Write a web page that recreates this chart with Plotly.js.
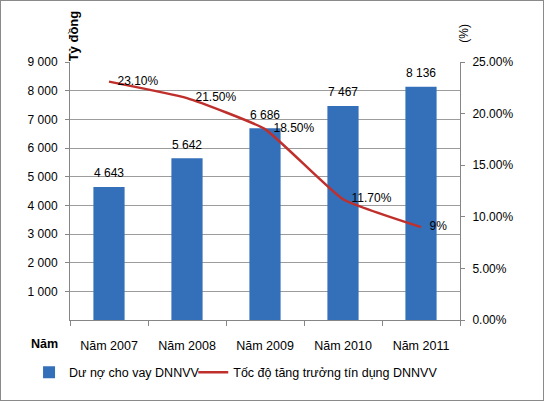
<!DOCTYPE html>
<html>
<head>
<meta charset="utf-8">
<script src="https://cdn.plot.ly/plotly-3.0.1.min.js"></script>
<style>
  body { margin: 0; background: #fff; }
  #chart { width: 544px; height: 401px; box-sizing: border-box; border: 1px solid #8a8a8a; }
</style>
</head>
<body>
<div id="chart"></div>
<script>
var years = ['Năm 2007', 'Năm 2008', 'Năm 2009', 'Năm 2010', 'Năm 2011'];
var loans = [4643, 5642, 6686, 7467, 8136];
var growth = [0.231, 0.215, 0.185, 0.117, 0.09];
var growthLabels = ['23.10%', '21.50%', '18.50%', '11.70%', '9%'];
var leftTicks = [1000, 2000, 3000, 4000, 5000, 6000, 7000, 8000, 9000];
var rightTicks = [0, 0.05, 0.10, 0.15, 0.20, 0.25];

var font = 'Liberation Sans, Arial, sans-serif';
var axisGrey = '#868686';
var clear = 'rgba(0,0,0,0)';

var data = [{
    type: 'bar',
    name: 'Dư nợ cho vay DNNVV',
    x: years,
    y: loans,
    marker: {color: '#346FBA'},
    legend: 'legend',
    hoverinfo: 'skip'
}, {
    // value labels above the bars (invisible markers give the offset)
    type: 'scatter',
    mode: 'markers+text',
    x: years,
    y: loans,
    marker: {size: 9, color: clear},
    texttemplate: '%{y:,d}',
    textposition: 'top center',
    textfont: {size: 12, color: '#000'},
    cliponaxis: false,
    showlegend: false,
    hoverinfo: 'skip'
}, {
    type: 'scatter',
    mode: 'lines+markers+text',
    name: 'Tốc độ tăng trưởng tín dụng DNNVV',
    x: years,
    y: growth,
    yaxis: 'y2',
    line: {color: '#BF2F2C', width: 2.5, shape: 'spline', smoothing: 0.4},
    marker: {size: 12, color: clear, line: {width: 0}},
    text: growthLabels,
    textposition: 'middle right',
    textfont: {size: 12, color: '#000'},
    cliponaxis: false,
    legend: 'legend2',
    hoverinfo: 'skip'
}];

var legendStyle = function (x) {
    return {
        orientation: 'h',
        x: x, xanchor: 'left',
        y: -0.204, yanchor: 'middle',
        font: {size: 12.5, color: '#000'},
        itemwidth: 30,
        bgcolor: clear
    };
};

var layout = {
    width: 542,
    height: 399,
    margin: {l: 69, r: 83, t: 61, b: 78},
    paper_bgcolor: '#fff',
    plot_bgcolor: '#fff',
    font: {family: font, size: 12, color: '#000'},
    separators: '. ',
    bargap: 0.6,
    showlegend: true,
    legend: legendStyle(-0.105),
    legend2: legendStyle(0.316),
    xaxis: {
        showline: true, linecolor: axisGrey, linewidth: 1,
        ticks: 'outside', tickson: 'boundaries', ticklen: 5, tickcolor: axisGrey,
        ticklabelstandoff: 14,
        tickfont: {size: 12.5, color: '#000'},
        showgrid: false
    },
    yaxis: {
        range: [0, 9000],
        tickvals: leftTicks,
        tickformat: ',d',
        showline: true, linecolor: axisGrey, linewidth: 1,
        ticks: 'outside', ticklen: 4, tickcolor: axisGrey,
        ticklabelstandoff: 5,
        showgrid: true, gridcolor: '#9c9c9c', gridwidth: 1,
        zeroline: false,
        tickfont: {size: 12, color: '#000'}
    },
    yaxis2: {
        overlaying: 'y',
        side: 'right',
        range: [0, 0.25],
        tickvals: rightTicks,
        tickformat: '.2%',
        showline: true, linecolor: axisGrey, linewidth: 1,
        ticks: 'outside', ticklen: 4, tickcolor: axisGrey,
        ticklabelstandoff: 5,
        showgrid: false, zeroline: false,
        tickfont: {size: 12, color: '#000'}
    },
    annotations: [
        {
            text: '<b>Tỷ đồng</b>', textangle: -90,
            xref: 'paper', yref: 'paper', x: 0.008, y: 1.1,
            xanchor: 'center', yanchor: 'middle', showarrow: false,
            font: {size: 13, color: '#000'}
        },
        {
            text: '(%)', textangle: -90,
            xref: 'paper', yref: 'paper', x: 1.008, y: 1.11,
            xanchor: 'center', yanchor: 'middle', showarrow: false,
            font: {size: 12, color: '#000'}
        },
        {
            text: '<b>Năm</b>',
            xref: 'paper', yref: 'paper', x: -0.065, y: -0.092,
            xanchor: 'center', yanchor: 'middle', showarrow: false,
            font: {size: 12.5, color: '#000'}
        }
    ]
};

Plotly.newPlot('chart', data, layout, {displayModeBar: false, staticPlot: true});
</script>
</body>
</html>
